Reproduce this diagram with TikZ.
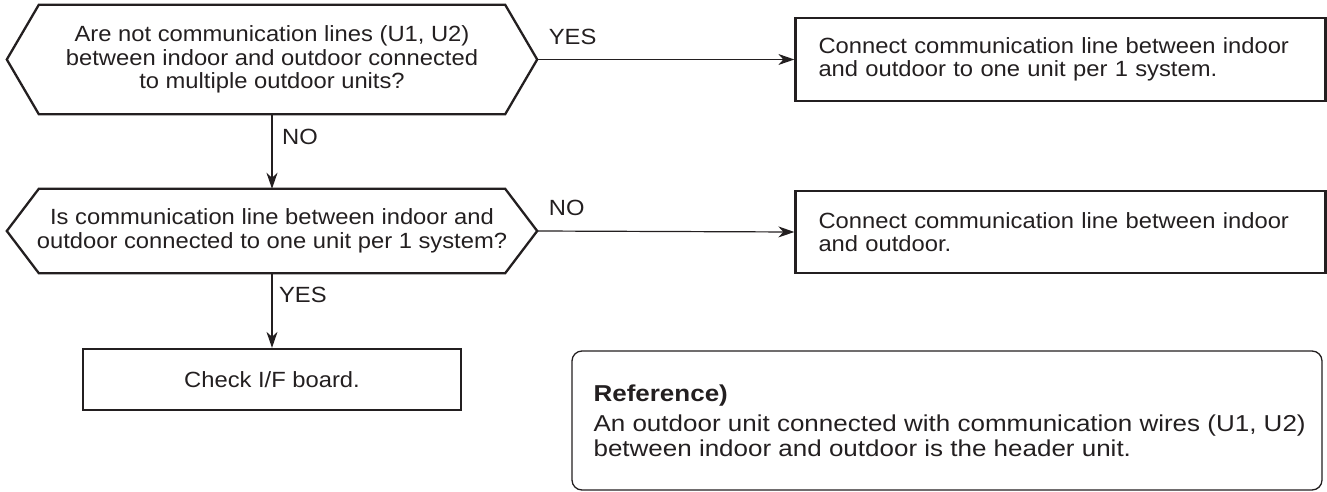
\documentclass[tikz,border=0pt]{standalone}
\usepackage{fontspec}
\setmainfont{Liberation Sans}[FakeStretch=1.08]
\newfontfamily\reffont{Liberation Sans}[FakeStretch=1.13]
\usetikzlibrary{arrows.meta}
\definecolor{ink}{HTML}{231F20}
\begin{document}
\begin{tikzpicture}[x=1pt,y=-1pt,
  font=\fontsize{22}{23.5}\selectfont, text=ink,
  hexnode/.style={minimum width=530pt, inner sep=0pt, align=center},
  hexline/.style={draw=ink, line width=2.3pt, line join=miter},
  boxnode/.style={draw=ink, line width=2.3pt, inner ysep=0pt, inner xsep=23pt, align=left},
  flow/.style={draw=ink, line width=1.2pt, -{Stealth[length=16pt,width=11pt,inset=5pt]}},
  lbl/.style={anchor=west, inner sep=0pt}
]
\useasboundingbox (0,0) rectangle (1327,492);

% decision 1
\node[hexnode, minimum height=109pt] (h1) at (272,59.5)
  {Are not communication lines (U1, U2)\\between indoor and outdoor connected\\to multiple outdoor units?};
\draw[hexline] (h1.west) -- ([xshift=32pt]h1.north west) -- ([xshift=-32pt]h1.north east)
  -- (h1.east) -- ([xshift=-32pt]h1.south east) -- ([xshift=32pt]h1.south west) -- cycle;

% decision 2
\node[hexnode, minimum height=84pt] (h2) at (272,231)
  {Is communication line between indoor and\\outdoor connected to one unit per 1 system?};
\draw[hexline] (h2.west) -- ([xshift=32pt]h2.north west) -- ([xshift=-32pt]h2.north east)
  -- (h2.east) -- ([xshift=-32pt]h2.south east) -- ([xshift=32pt]h2.south west) -- cycle;

% action boxes
\node[boxnode, text width=484pt, minimum height=83pt] (b1) at (1060.5,59.5)
  {Connect communication line between indoor\\and outdoor to one unit per 1 system.};
\node[boxnode, text width=484pt, minimum height=82pt] (b2) at (1060.5,232)
  {Connect communication line between indoor\\and outdoor.};
\node[draw=ink, line width=2.3pt, minimum width=378pt, minimum height=61pt, inner sep=0pt] (b3) at (272,379.5)
  {Check I/F board.};

% reference box
\node[draw=ink, line width=1.3pt, rounded corners=10pt, minimum width=750pt, minimum height=139pt,
      inner sep=0pt] (r) at (947,420.5) {};
\node[anchor=west, inner sep=0pt, align=left, font=\reffont\fontsize{23}{25}\selectfont] (rt)
  at ([xshift=22pt]r.west)
  {\textbf{Reference)}\\[5pt]An outdoor unit connected with communication wires (U1, U2)\\between indoor and outdoor is the header unit.};

% connectors
\draw[flow] (h1.east) -- node[lbl, pos=0.043, yshift=23pt] {YES} (b1.west);
\draw[flow] (h1.south) -- node[lbl, pos=0.31, xshift=9.5pt] {NO} (h2.north);
\draw[flow] (h2.east) -- node[lbl, pos=0.043, yshift=23pt] {NO} (b2.west);
\draw[flow] (h2.south) -- node[lbl, pos=0.29, xshift=6.5pt] {YES} (b3.north);
\end{tikzpicture}
\end{document}
